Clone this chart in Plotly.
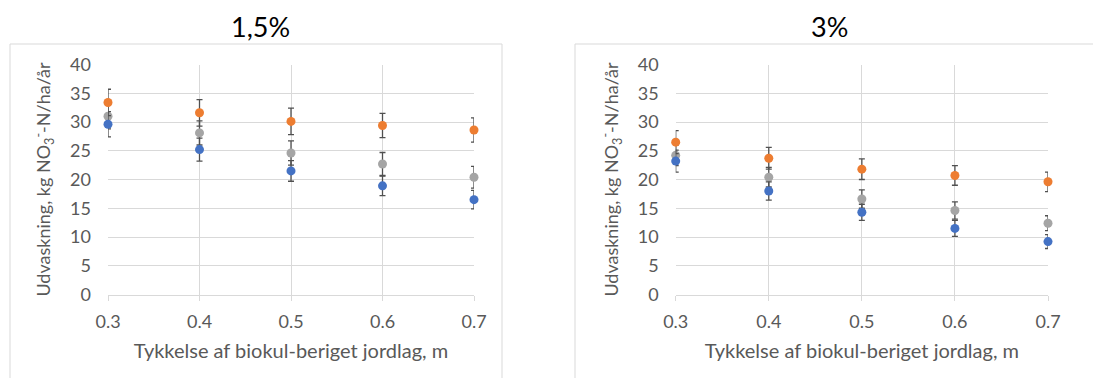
import plotly.graph_objects as go

thickness = [0.3, 0.4, 0.5, 0.6, 0.7]

# 1,5 % panel
blue_15 = [29.6, 25.2, 21.5, 18.9, 16.5]
blue_15_err = [2.2, 2.0, 1.8, 1.7, 1.6]
orange_15 = [33.4, 31.6, 30.1, 29.4, 28.6]
orange_15_err = [2.3, 2.3, 2.3, 2.1, 2.1]
grey_15 = [31.0, 28.1, 24.6, 22.7, 20.4]
grey_15_err = [2.2, 2.1, 2.1, 2.0, 1.9]

# 3 % panel
blue_3 = [23.2, 18.0, 14.3, 11.5, 9.2]
blue_3_err = [1.9, 1.6, 1.4, 1.4, 1.2]
orange_3 = [26.5, 23.7, 21.8, 20.7, 19.6]
orange_3_err = [2.0, 1.9, 1.8, 1.7, 1.7]
grey_3 = [24.2, 20.4, 16.6, 14.6, 12.4]
grey_3_err = [1.8, 1.7, 1.6, 1.5, 1.3]

panel_titles = ["1,5%", "3%"]
x_title = "Tykkelse af biokul-beriget jordlag, m"
y_title = "Udvaskning, kg NO<sub>3</sub><sup>-</sup>-N/ha/år"

BLUE = "#4472C4"
ORANGE = "#ED7D31"
GREY = "#A5A5A5"
ERR = "#505050"
GRID = "#D9D9D9"
TXT = "#595959"
FONT = "Lato, Open Sans, sans-serif"

W, H = 1093, 378

fig = go.Figure()

def add_series(x, y, err, color, xa, ya, name):
    fig.add_trace(go.Scatter(
        x=x, y=y, mode="markers", name=name, showlegend=False,
        xaxis=xa, yaxis=ya, cliponaxis=False,
        marker=dict(color=color, size=9),
        error_y=dict(type="data", array=err, visible=True, color=ERR,
                     thickness=1.3, width=3),
    ))

add_series(thickness, grey_15, grey_15_err, GREY, "x", "y", "Grå")
add_series(thickness, orange_15, orange_15_err, ORANGE, "x", "y", "Orange")
add_series(thickness, blue_15, blue_15_err, BLUE, "x", "y", "Blå")
add_series(thickness, grey_3, grey_3_err, GREY, "x2", "y2", "Grå")
add_series(thickness, orange_3, orange_3_err, ORANGE, "x2", "y2", "Orange")
add_series(thickness, blue_3, blue_3_err, BLUE, "x2", "y2", "Blå")

y_dom = [(H - 294.5) / H, (H - 64.5) / H]
left_dom = [108 / W, 474 / W]
right_dom = [675.7 / W, 1048 / W]

xaxis_common = dict(
    range=[0.3, 0.7], tickvals=thickness, ticktext=[str(v) for v in thickness],
    showgrid=True, gridcolor=GRID, gridwidth=1,
    showline=True, linecolor=GRID, linewidth=1,
    ticks="outside", ticklen=5, tickcolor=GRID,
    tickfont=dict(family=FONT, size=18, color=TXT),
    ticklabelstandoff=6, zeroline=False, fixedrange=True, automargin=False,
    title=dict(text=x_title, font=dict(family=FONT, size=20, color=TXT), standoff=12),
)
yaxis_common = dict(
    range=[0, 40], dtick=5, showgrid=True, gridcolor=GRID, gridwidth=1,
    zeroline=False, showline=False, ticks="",
    tickfont=dict(family=FONT, size=18, color=TXT),
    ticklabelstandoff=16, fixedrange=True, automargin=False,
    title=dict(text=y_title, font=dict(family=FONT, size=18, color=TXT), standoff=14),
)

fig.update_layout(
    width=W, height=H, margin=dict(l=0, r=0, t=0, b=0, autoexpand=False),
    paper_bgcolor="white", plot_bgcolor="white", showlegend=False,
    xaxis=dict(domain=left_dom, anchor="y", **xaxis_common),
    yaxis=dict(domain=y_dom, anchor="x", **yaxis_common),
    xaxis2=dict(domain=right_dom, anchor="y2", **xaxis_common),
    yaxis2=dict(domain=y_dom, anchor="x2", **yaxis_common),
    font=dict(family=FONT),
)

# chart borders
fig.add_shape(type="rect", xref="paper", yref="paper",
              x0=10 / W, x1=502 / W, y0=-0.05, y1=(H - 44) / H,
              line=dict(color=GRID, width=1), layer="below")
fig.add_shape(type="rect", xref="paper", yref="paper",
              x0=575 / W, x1=1.05, y0=-0.05, y1=(H - 44) / H,
              line=dict(color=GRID, width=1), layer="below")

for txt, xc in zip(panel_titles, [260, 829]):
    fig.add_annotation(text=txt, xref="paper", yref="paper",
                       x=xc / W, y=(H - 27) / H, showarrow=False,
                       xanchor="center", yanchor="middle",
                       font=dict(family=FONT, size=27, color="black"))

fig.write_html("out.html")
